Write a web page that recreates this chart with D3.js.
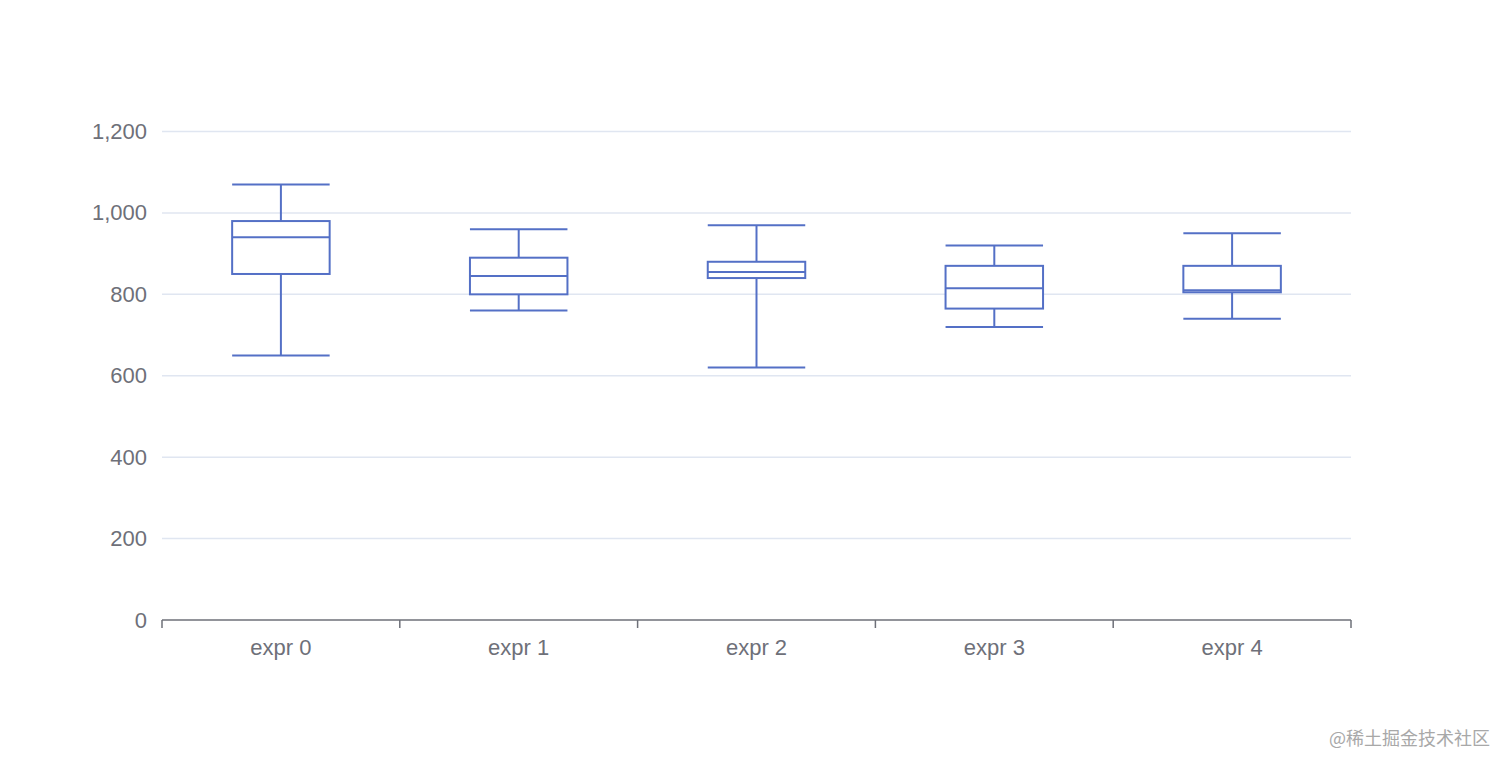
<!DOCTYPE html>
<html>
<head>
<meta charset="utf-8">
<script src="https://cdn.jsdelivr.net/npm/d3@7"></script>
<style>
  html, body { margin: 0; padding: 0; background: #fff; }
  svg { display: block; font-family: "Liberation Sans", Arial, sans-serif; }
</style>
</head>
<body>
<div id="chart"></div>
<script>
// box stats: low whisker, Q1, median, Q3, high whisker
const categories = ['expr 0', 'expr 1', 'expr 2', 'expr 3', 'expr 4'];
const lows    = [650, 760, 620, 720, 740];
const q1s     = [850, 800, 840, 765, 805];
const medians = [940, 845, 855, 815, 810];
const q3s     = [980, 890, 880, 870, 870];
const highs   = [1070, 960, 970, 920, 950];
const yTicks  = [0, 200, 400, 600, 800, 1000, 1200];

const W = 1512, H = 770;
const plotLeft = 162, plotRight = 1351, plotTop = 131.5, plotBottom = 620;
const boxColor = '#5470c6';

const svg = d3.select('#chart')
    .append('svg')
    .attr('width', W)
    .attr('height', H);

const x = d3.scaleBand()
    .domain(categories)
    .range([plotLeft, plotRight]);

const y = d3.scaleLinear()
    .domain([0, 1200])
    .range([plotBottom, plotTop]);

// gridlines
svg.append('g')
    .selectAll('line')
    .data(yTicks.filter(d => d > 0))
    .enter()
    .append('line')
    .attr('x1', plotLeft)
    .attr('x2', plotRight)
    .attr('y1', d => y(d))
    .attr('y2', d => y(d))
    .attr('stroke', '#e0e6f1')
    .attr('stroke-width', 1.5);

// y axis labels only
const yAxis = svg.append('g')
    .attr('transform', `translate(${plotLeft},0)`)
    .call(d3.axisLeft(y).tickValues(yTicks).tickSize(0).tickPadding(15).tickFormat(d3.format(',')));
yAxis.select('.domain').remove();
yAxis.selectAll('text')
    .attr('font-size', 22)
    .attr('font-family', '"Liberation Sans", Arial, sans-serif')
    .attr('fill', '#6e7079');

// x axis with ticks on band edges
const xAxis = svg.append('g')
    .attr('transform', `translate(0,${plotBottom})`);
xAxis.append('line')
    .attr('x1', plotLeft)
    .attr('x2', plotRight)
    .attr('stroke', '#6e7079')
    .attr('stroke-width', 1.5);
const edges = categories.map(c => x(c)).concat([plotRight]);
xAxis.selectAll('.tick')
    .data(edges)
    .enter()
    .append('line')
    .attr('x1', d => d)
    .attr('x2', d => d)
    .attr('y1', 0)
    .attr('y2', 8)
    .attr('stroke', '#6e7079')
    .attr('stroke-width', 1.5);
xAxis.selectAll('text')
    .data(categories)
    .enter()
    .append('text')
    .attr('x', d => x(d) + x.bandwidth() / 2)
    .attr('y', 35)
    .attr('text-anchor', 'middle')
    .attr('font-size', 22)
    .attr('fill', '#6e7079')
    .text(d => d);

// boxes
const boxW = x.bandwidth() * 0.41;
const boxes = svg.append('g')
    .selectAll('g')
    .data(categories)
    .enter()
    .append('g')
    .attr('fill', 'none')
    .attr('stroke', boxColor)
    .attr('stroke-width', 2);

boxes.each(function (c, i) {
    const g = d3.select(this);
    const cx = x(c) + x.bandwidth() / 2;
    const x0 = cx - boxW / 2, x1 = cx + boxW / 2;
    // whiskers
    g.append('line').attr('x1', cx).attr('x2', cx).attr('y1', y(highs[i])).attr('y2', y(q3s[i]));
    g.append('line').attr('x1', cx).attr('x2', cx).attr('y1', y(q1s[i])).attr('y2', y(lows[i]));
    g.append('line').attr('x1', x0).attr('x2', x1).attr('y1', y(highs[i])).attr('y2', y(highs[i]));
    g.append('line').attr('x1', x0).attr('x2', x1).attr('y1', y(lows[i])).attr('y2', y(lows[i]));
    // box and median
    g.append('rect')
        .attr('x', x0)
        .attr('y', y(q3s[i]))
        .attr('width', boxW)
        .attr('height', y(q1s[i]) - y(q3s[i]))
        .attr('fill', '#fff');
    g.append('line').attr('x1', x0).attr('x2', x1).attr('y1', y(medians[i])).attr('y2', y(medians[i]));
});

// watermark
svg.append('text')
    .attr('x', 1490)
    .attr('y', 745)
    .attr('text-anchor', 'end')
    .attr('font-size', 18)
    .attr('font-family', '"Noto Sans CJK SC", sans-serif')
    .attr('fill', '#a8a8a8')
    .text('@稀土掘金技术社区');
</script>
</body>
</html>
